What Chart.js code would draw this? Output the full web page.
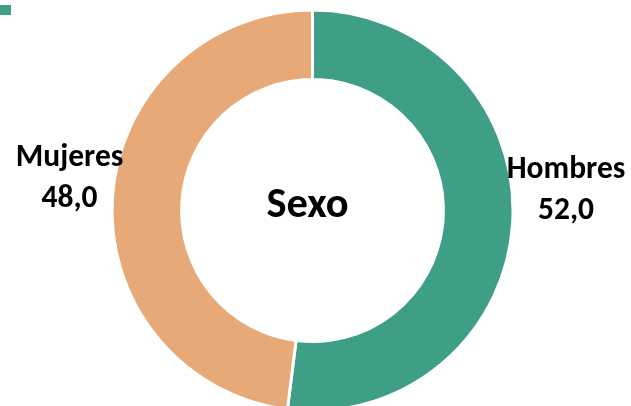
<!DOCTYPE html>
<html>
<head>
<meta charset="utf-8">
<script src="https://cdn.jsdelivr.net/npm/chart.js@4.4.1/dist/chart.umd.min.js"></script>
<style>
  html, body { margin: 0; padding: 0; background: #ffffff; overflow: hidden; }
  #wrap { position: relative; width: 631px; height: 420px; }
  canvas { display: block; }
</style>
</head>
<body>
<div id="wrap"><canvas id="c" width="631" height="420"></canvas></div>
<script>
const categories = ['Hombres', 'Mujeres'];
const values = [52.0, 48.0];
const valueLabels = ['52,0', '48,0'];
const centerTitle = 'Sexo';
const colors = ['#3F9F86', '#E7A977'];

const FONT = 'Carlito, Lato, sans-serif';

const labelPlugin = {
  id: 'labelPlugin',
  afterDraw(chart) {
    const ctx = chart.ctx;
    const meta = chart.getDatasetMeta(0);
    const arc0 = meta.data[0];
    const cx = arc0.x, cy = arc0.y;
    ctx.save();
    ctx.fillStyle = '#000000';
    ctx.textAlign = 'center';
    ctx.textBaseline = 'alphabetic';
    ctx.font = 'bold 42.5px ' + FONT;
    ctx.fillText(centerTitle, cx - 5, cy + 6.5);
    ctx.font = 'bold 31.5px ' + FONT;
    const offs = [{dx: 253.5, dy: -32.5}, {dx: -243, dy: -44.5}];
    meta.data.forEach((a, i) => {
      const x = cx + offs[i].dx;
      const y = cy + offs[i].dy;
      ctx.fillText(categories[i], x, y);
      ctx.fillText(valueLabels[i], x, y + 40.5);
    });
    ctx.fillStyle = colors[0];
    ctx.fillRect(0, 5, 11, 10);
    ctx.restore();
  }
};

new Chart(document.getElementById('c'), {
  type: 'doughnut',
  data: {
    labels: categories,
    datasets: [{
      data: values,
      backgroundColor: colors,
      borderColor: '#ffffff',
      borderWidth: 3,
      hoverOffset: 0
    }]
  },
  options: {
    responsive: false,
    animation: false,
    cutout: '65.3%',
    layout: { padding: { top: 8.5, bottom: 7.5, left: 0, right: 6 } },
    plugins: {
      legend: { display: false },
      tooltip: { enabled: false },
      title: { display: false }
    }
  },
  plugins: [labelPlugin]
});
</script>
</body>
</html>
